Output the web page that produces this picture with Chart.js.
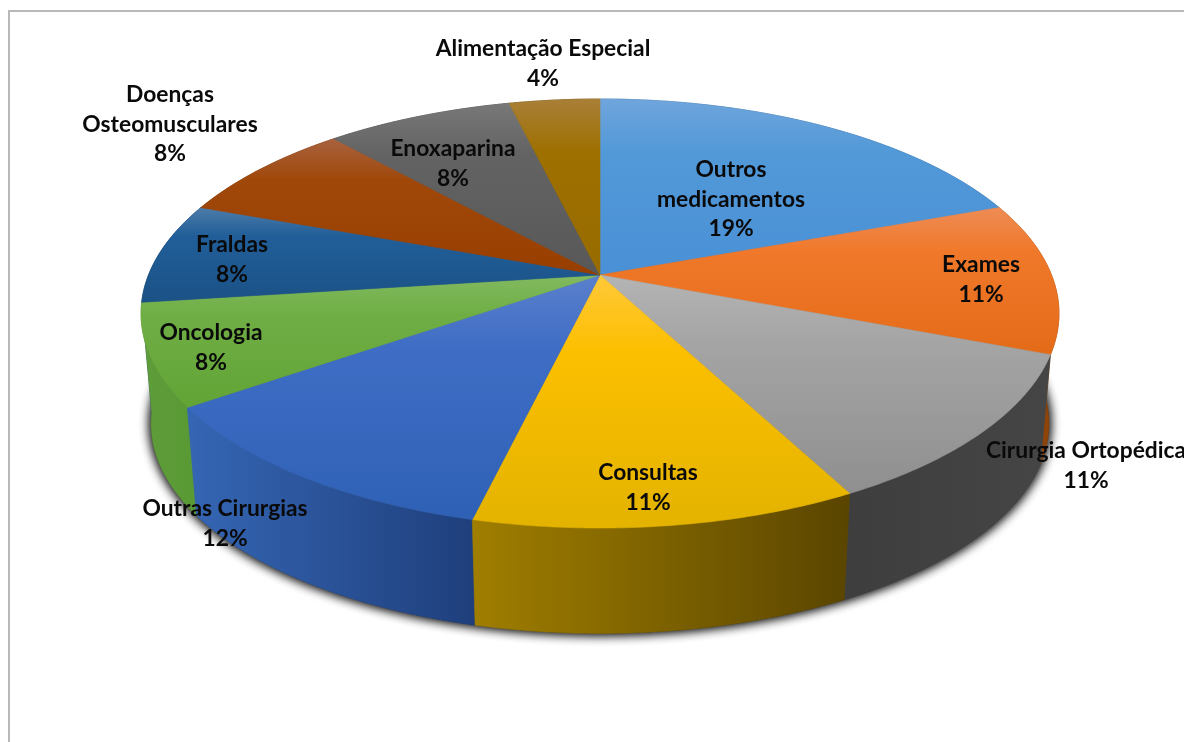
<!DOCTYPE html>
<html lang="pt">
<head>
<meta charset="utf-8">
<title>Pizza 3D</title>
<style>
  html, body { margin: 0; padding: 0; background: #fff; overflow: hidden; }
  #frame { position: absolute; left: 8px; top: 10px; width: 1190px; height: 750px; border: 2px solid #b9b9b9; }
  #pie { position: absolute; left: 0; top: 0; filter: blur(0.45px); }
</style>
<script src="https://cdn.jsdelivr.net/npm/chart.js@4"></script>
</head>
<body>
<div id="frame"></div>
<canvas id="pie" width="1184" height="742"></canvas>
<script>
"use strict";

const categories = [
  ["Outros", "medicamentos"], ["Exames"], ["Cirurgia Ortopédica"], ["Consultas"],
  ["Outras Cirurgias"], ["Oncologia"], ["Fraldas"],
  ["Doenças", "Osteomusculares"], ["Enoxaparina"], ["Alimentação Especial"]
];
const shares = [19.4, 11.45, 11.45, 11.45, 11.55, 7.65, 7.65, 7.75, 7.85, 3.8];

// top face gradient: light rim, body, near edge
const faceLight = ["#6fa5dc", "#ee8c55", "#b4b4b4", "#ffc93a", "#5a80cc", "#82ba60", "#4c7ca8", "#a8623e", "#787878", "#a97f38"];
const faceMid = ["#5299d8", "#f0782a", "#a5a5a5", "#fcbf00", "#3f6dc5", "#6fae45", "#215e99", "#a0480a", "#636363", "#9e7000"];
const faceDark = ["#4a90d6", "#e36b18", "#8f8f8f", "#e3b300", "#2e61b6", "#62a436", "#1b5286", "#983f00", "#585858", "#986b00"];
// side wall gradient, left to right
const wallLeft = ["#2e5f8c", "#a6500c", "#3e3e3e", "#a07e00", "#3566b4", "#5f9c3a", "#123a60", "#6a2c00", "#3a3a3a", "#604400"];
const wallRight = ["#2e5f8c", "#8a4006", "#454545", "#5a4500", "#1f3f7c", "#5a9a35", "#123a60", "#6a2c00", "#3a3a3a", "#604400"];

// where each label block is centred (first line)
const labelAt = [[731, 170], [981, 265], [1086, 451], [648, 473], [225, 509], [211, 333], [232, 245], [170, 95], [453, 149], [543, 49]];
const LINE_H = 29.5;

// perspective of the disc: k tilts it, RX/RY are its size on screen
const K = 0.1795, RX = 451.5, RY = 207.6;
// the underside sits lower and slightly smaller
const BASE_DROP = 111, BASE_SCALE = 0.978;

function project(arc, angle, base) {
  const u = Math.cos(angle), v = Math.sin(angle), w = 1 - K * v;
  const s = base ? BASE_SCALE : 1;
  return {
    x: arc.x + s * RX * u / w,
    y: arc.y + (base ? BASE_DROP : 0) + s * RY * v / w
  };
}

function arcPoints(arc, from, to, base) {
  const n = Math.max(2, Math.ceil(Math.abs(to - from) / 0.01));
  const pts = [];
  for (let i = 0; i <= n; i++) pts.push(project(arc, from + (to - from) * i / n, base));
  return pts;
}

function trace(ctx, pts) {
  ctx.beginPath();
  pts.forEach((p, i) => i ? ctx.lineTo(p.x, p.y) : ctx.moveTo(p.x, p.y));
  ctx.closePath();
}

function paint(ctx, fill) {
  ctx.fillStyle = fill;
  ctx.strokeStyle = fill;
  ctx.lineWidth = 0.6;
  ctx.fill();
  ctx.stroke();
}

const pie3d = {
  id: "pie3d",
  beforeDatasetsDraw(chart) {
    const ctx = chart.ctx;
    const arcs = chart.getDatasetMeta(0).data;

    // soft shadow under the base, two passes so it is dark near the wall
    ctx.save();
    ctx.shadowColor = "rgba(0,0,0,0.9)";
    ctx.shadowBlur = 12;
    ctx.fillStyle = "#444";
    trace(ctx, arcPoints(arcs[0], 0, Math.PI * 2, true));
    ctx.fill();
    ctx.fill();
    ctx.restore();

    // side walls, back to front
    const order = arcs.map((a, i) => i).sort((a, b) =>
      Math.sin((arcs[a].startAngle + arcs[a].endAngle) / 2) - Math.sin((arcs[b].startAngle + arcs[b].endAngle) / 2));
    order.forEach(i => {
      const a = arcs[i];
      const top = arcPoints(a, a.startAngle, a.endAngle, false);
      const bottom = arcPoints(a, a.endAngle, a.startAngle, true);
      const xs = top.map(p => p.x);
      const g = ctx.createLinearGradient(Math.min(...xs), 0, Math.max(...xs), 0);
      g.addColorStop(0, wallLeft[i]);
      g.addColorStop(1, wallRight[i]);
      trace(ctx, top.concat(bottom));
      paint(ctx, g);
    });

    // top face
    arcs.forEach((a, i) => {
      const pts = [{ x: a.x, y: a.y }].concat(arcPoints(a, a.startAngle, a.endAngle, false));
      const ys = pts.map(p => p.y);
      const g = ctx.createLinearGradient(0, Math.min(...ys), 0, Math.max(...ys));
      g.addColorStop(0, faceLight[i]);
      g.addColorStop(0.3, faceMid[i]);
      g.addColorStop(1, faceDark[i]);
      trace(ctx, pts);
      paint(ctx, g);
    });
    return false;
  },
  afterDraw(chart) {
    const ctx = chart.ctx;
    const total = shares.reduce((a, b) => a + b, 0);
    ctx.save();
    ctx.font = "bold 22.8px Lato";
    ctx.fillStyle = "#0a0a0a";
    ctx.textAlign = "center";
    ctx.textBaseline = "middle";
    categories.forEach((lines, i) => {
      const [x, y] = labelAt[i];
      lines.concat(Math.round(shares[i] / total * 100) + "%").forEach((t, n) => {
        ctx.fillText(t, x, y + n * LINE_H);
      });
    });
    ctx.restore();
  }
};

new Chart(document.getElementById("pie"), {
  type: "pie",
  data: {
    labels: categories.map(c => c.join(" ")),
    datasets: [{ data: shares, backgroundColor: faceMid, borderWidth: 0 }]
  },
  options: {
    responsive: false,
    animation: false,
    layout: { padding: { left: 16, bottom: 192 } },
    plugins: { legend: { display: false }, tooltip: { enabled: false } }
  },
  plugins: [pie3d]
});
</script>
</body>
</html>
